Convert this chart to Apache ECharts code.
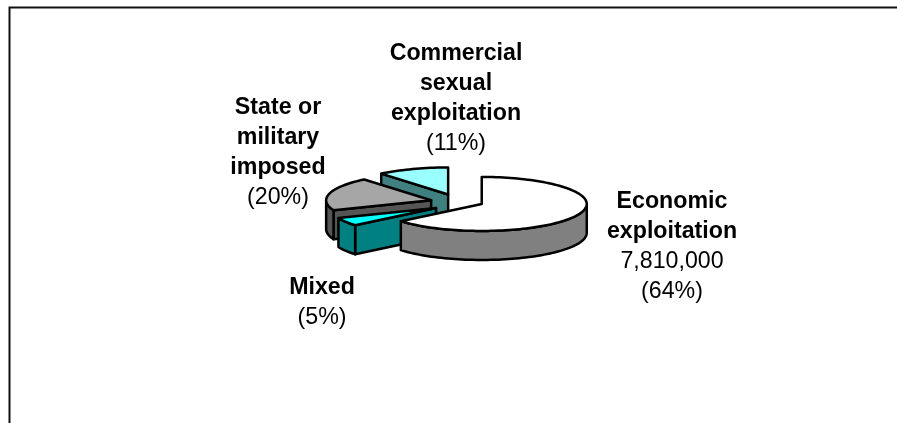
<!DOCTYPE html>
<html><head><meta charset="utf-8">
<style>html,body{margin:0;padding:0;background:#fff}#c{width:897px;height:423px}</style>
<script src="https://cdn.jsdelivr.net/npm/echarts@6/dist/echarts.min.js"></script>
</head><body><div id="c"></div>
<script>
const categories = ['Economic exploitation', 'Mixed', 'State or military imposed', 'Commercial sexual exploitation'];
const shares = [64, 5, 20, 11];
const nameLines = [['Economic', 'exploitation'], ['Mixed'], ['State or', 'military', 'imposed'], ['Commercial', 'sexual', 'exploitation']];
const noteLines = [['7,810,000', '(64%)'], ['(5%)'], ['(20%)'], ['(11%)']];
const topColors = ['#ffffff', '#00ffff', '#a6a6a6', '#99ffff'];
const sideColors = ['#808080', '#008080', '#555555', '#408080'];
const labelCenters = [[672, 187], [322, 273], [278, 93], [456, 39]];
const sliceNudges = [[0, 0], [2, 3.5], [0, 1], [0, 0]];

const CX = 457.3, CY = 201, RX = 105, RY = 27, DEPTH = 29, EXPLODE = 27;
const total = shares.reduce((a, b) => a + b, 0);
const deg = Math.PI / 180;
const px = (t, r) => Math.sin(t * deg) * r;
const py = (t, r) => -Math.cos(t * deg) * r;
function arc(cx, cy, a, b, dy) {
  const pts = [], n = Math.max(2, Math.ceil(Math.abs(b - a) / 2));
  for (let i = 0; i <= n; i++) {
    const t = a + (b - a) * i / n;
    pts.push([cx + px(t, RX), cy + py(t, RY) + dy]);
  }
  return pts;
}
const LINE = { stroke: '#000', lineWidth: 2.5, lineJoin: 'round' };

function renderItem(params, api) {
  const i = params.dataIndex;
  let start = 0;
  for (let k = 0; k < i; k++) start += shares[k] / total * 360;
  const end = start + api.value(0) / total * 360;
  const mid = (start + end) / 2;
  const ax = CX + px(mid, EXPLODE) + sliceNudges[i][0], ay = CY + py(mid, EXPLODE * RY / RX) + sliceNudges[i][1];
  const z2 = (4 - i) * 10;
  const side = { fill: sideColors[i], ...LINE };
  const children = [];
  const face = (t) => {
    const ex = ax + px(t, RX), ey = ay + py(t, RY);
    children.push({ type: 'polygon', z2, shape: { points: [[ax, ay], [ex, ey], [ex, ey + DEPTH], [ax, ay + DEPTH]] }, style: side });
  };
  if (Math.cos((start - 90) * deg) < -1e-6) face(start);
  if (Math.cos((end + 90) * deg) < -1e-6) face(end);
  const ra = Math.max(start, 90), rb = Math.min(end, 270);
  if (rb > ra) {
    const topArc = arc(ax, ay, ra, rb, 0), botArc = arc(ax, ay, ra, rb, DEPTH).reverse();
    children.push({ type: 'polygon', z2, shape: { points: topArc.concat(botArc) }, style: side });
  }
  children.push({ type: 'polygon', z2: z2 + 1, shape: { points: [[ax, ay]].concat(arc(ax, ay, start, end, 0)) }, style: { fill: topColors[i], ...LINE } });

  const rich = { b: { fontWeight: 'bold', fontSize: 23.2, lineHeight: 30, fontFamily: 'Liberation Sans', fill: '#000', align: 'center' },
                 r: { fontSize: 23.2, lineHeight: 30, fontFamily: 'Liberation Sans', fill: '#000', align: 'center' } };
  const text = nameLines[i].map(s => '{b|' + s + '}').concat(noteLines[i].map(s => '{r|' + s + '}')).join('\n');
  children.push({ type: 'text', z2: 100, style: { x: labelCenters[i][0], y: labelCenters[i][1], text, rich, align: 'center', verticalAlign: 'top' } });
  return { type: 'group', children };
}

const chart = echarts.init(document.getElementById('c'), null, { renderer: 'canvas' });
chart.setOption({
  animation: false,
  backgroundColor: '#fff',
  graphic: [{ type: 'polyline', silent: true, shape: { points: [[9.5, 423], [9.5, 7.5], [897, 7.5]] }, style: { stroke: '#111', lineWidth: 2, fill: null } }],
  series: [{
    type: 'custom',
    coordinateSystem: 'none',
    silent: true,
    renderItem,
    encode: { value: 0 },
    data: shares.map((v, i) => ({ name: categories[i], value: [v] }))
  }]
});
</script></body></html>
